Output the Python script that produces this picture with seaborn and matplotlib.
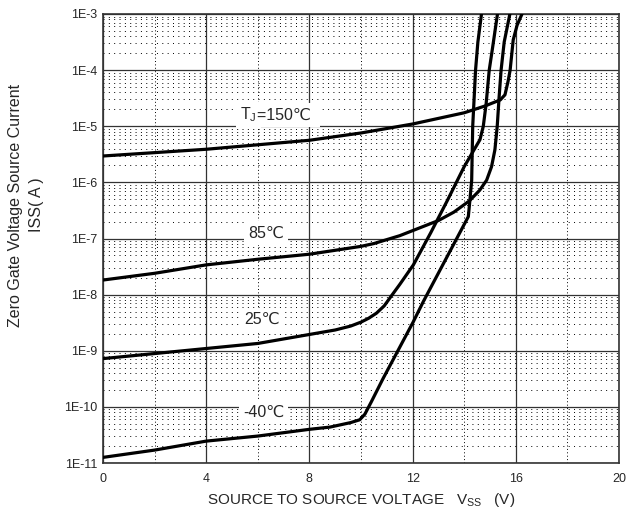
import numpy as np
import pandas as pd
import matplotlib
matplotlib.use("Agg")
import matplotlib.pyplot as plt
import seaborn as sns

# Source-to-source voltage (V) and log10 of the zero-gate leakage current (A)
v_150 = [0, 2, 4, 6, 8, 10, 12, 13, 14, 14.8, 15.4, 15.58, 15.7, 15.78, 15.9, 16.05, 16.24]
lg_150 = [-5.53, -5.47, -5.41, -5.33, -5.25, -5.12, -4.96, -4.86, -4.76, -4.64, -4.53, -4.44,
          -4.2, -4.0, -3.46, -3.2, -3.0]

v_85 = [0, 2, 4, 6, 8, 9, 10, 10.5, 11, 11.5, 12, 12.5, 13, 13.6, 14.2, 14.6, 14.87, 15.06,
        15.19, 15.28, 15.35, 15.43, 15.55, 15.77]
lg_85 = [-7.74, -7.62, -7.47, -7.37, -7.28, -7.21, -7.14, -7.09, -7.02, -6.95, -6.86, -6.77,
         -6.68, -6.53, -6.33, -6.14, -5.96, -5.72, -5.42, -5.0, -4.5, -4.0, -3.5, -3.0]

v_25 = [0, 2, 4, 6, 8, 9, 9.6, 10, 10.3, 10.6, 10.9, 11.15, 11.5, 12.03, 12.7, 13.35, 14.0,
        14.61, 14.74, 14.85, 14.97, 15.1, 15.29]
lg_25 = [-9.14, -9.05, -8.96, -8.87, -8.71, -8.63, -8.56, -8.49, -8.42, -8.33, -8.20, -8.04,
         -7.82, -7.47, -6.90, -6.32, -5.72, -5.24, -5.0, -4.6, -4.0, -3.6, -3.0]

v_m40 = [0, 2, 4, 6, 8, 8.8, 9.6, 9.95, 10.15, 10.4, 10.85, 12.02, 12.42, 14.16, 14.22, 14.29,
         14.33, 14.44, 14.53, 14.67]
lg_m40 = [-10.90, -10.77, -10.61, -10.52, -10.40, -10.36, -10.28, -10.23, -10.13, -9.91, -9.50,
          -8.49, -8.12, -6.61, -6.32, -5.96, -5.0, -4.0, -3.5, -3.0]

temps = ["150", "85", "25", "-40"]
curve_labels = ["85\u2103", "25\u2103", "-40\u2103"]
label_v = [6.32, 6.18, 6.22]
label_lg = [-6.90, -8.44, -10.09]
tj_label_v = 5.97
tj_label_lg = -4.80

x_ticks = [0, 4, 8, 12, 16, 20]
y_exp = [-11, -10, -9, -8, -7, -6, -5, -4, -3]
y_tick_labels = [f"1E{e}" for e in y_exp]

frames = []
for t, v, lg in zip(temps, [v_150, v_85, v_25, v_m40], [lg_150, lg_85, lg_25, lg_m40]):
    frames.append(pd.DataFrame({"V": v, "I": np.power(10.0, lg), "T": t}))
df = pd.concat(frames, ignore_index=True)

sns.set_style("white")
plt.rcParams["font.family"] = ["Liberation Sans", "DejaVu Sans"]
plt.rcParams["mathtext.fontset"] = "custom"
plt.rcParams["mathtext.rm"] = "Liberation Sans"
plt.rcParams["mathtext.it"] = "Liberation Sans:italic"

fig = plt.figure(figsize=(6.3, 5.19), dpi=100)
ax = fig.add_axes([103 / 630, 1 - 463 / 519, 516 / 630, 449 / 519])

sns.lineplot(data=df, x="V", y="I", hue="T", units="T", estimator=None, sort=False,
             palette=["black"] * 4, linewidth=2.3, legend=False, ax=ax, zorder=4)

ax.set_yscale("log")
ax.set_xlim(0, 20)
ax.set_ylim(1e-11, 1e-3)
ax.set_xticks(x_ticks)
ax.set_xticklabels([str(t) for t in x_ticks])
ax.set_yticks([10.0 ** e for e in y_exp])
ax.set_yticklabels(y_tick_labels)
ax.set_xticks([2, 6, 10, 14, 18], minor=True)
ax.yaxis.set_minor_locator(matplotlib.ticker.LogLocator(base=10, subs=np.arange(2, 10), numticks=20))
ax.yaxis.set_minor_formatter(matplotlib.ticker.NullFormatter())
ax.tick_params(axis="both", which="both", length=0)
ax.tick_params(axis="x", which="major", pad=7, labelsize=9)
ax.tick_params(axis="y", which="major", pad=4, labelsize=9)

ax.grid(which="major", color="#333333", linewidth=0.9, linestyle="-")
ax.grid(which="minor", axis="y", color="black", linewidth=0.7, linestyle=(0, (1, 4.5)))
ax.grid(which="minor", axis="x", color="black", linewidth=0.7, linestyle=(0, (1, 2.5)))
ax.set_axisbelow(True)
for s in ax.spines.values():
    s.set_color("#333333")
    s.set_linewidth(1.2)

ax.set_xlabel("")
ax.set_ylabel("")

box = dict(facecolor="white", edgecolor="none", pad=3)
for txt, v, lg in zip(curve_labels, label_v, label_lg):
    ax.text(v, 10.0 ** lg, txt, ha="center", va="center", fontsize=11.5, zorder=3, bbox=box)

# junction-temperature label: subscripted symbol and value set side by side,
# white backgrounds first, glyphs on top
tj_y = 10.0 ** tj_label_lg
ax.text(tj_label_v, tj_y, "=150\u2103 ", ha="left", va="center", fontsize=11.5,
        color="none", zorder=3, bbox=box)
ax.text(tj_label_v, tj_y, "T$_\\mathregular{J}$", ha="right", va="center",
        fontsize=11.5, zorder=3.2, bbox=box)
ax.text(tj_label_v, tj_y, "=150\u2103 ", ha="left", va="center", fontsize=11.5,
        zorder=3.4)

fig.text(361 / 630, 1 - 500 / 519,
         "SOURCE TO SOURCE VOLTAGE   V$_\\mathregular{SS}$   (V)",
         ha="center", va="center", fontsize=11)
fig.text(26 / 630, 1 - 205 / 519, "Zero Gate Voltage Source Current\nISS( A )",
         ha="center", va="center", rotation=90, fontsize=11.5, linespacing=1.5)

fig.savefig("out.png", dpi=100)
